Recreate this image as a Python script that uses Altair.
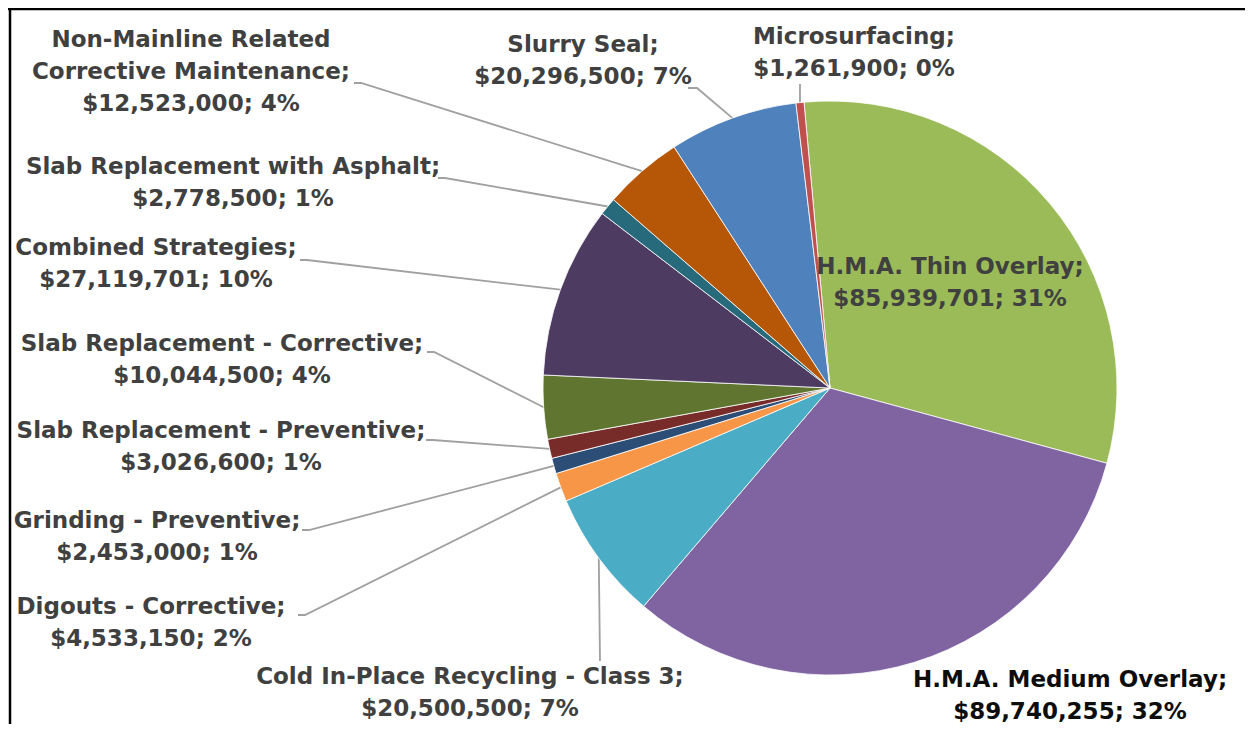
import math
import altair as alt
import pandas as pd

# ---- data ----
names = [
    "H.M.A. Thin Overlay",
    "H.M.A. Medium Overlay",
    "Cold In-Place Recycling - Class 3",
    "Digouts - Corrective",
    "Grinding - Preventive",
    "Slab Replacement - Preventive",
    "Slab Replacement - Corrective",
    "Combined Strategies",
    "Slab Replacement with Asphalt",
    "Non-Mainline Related Corrective Maintenance",
    "Slurry Seal",
    "Microsurfacing",
]
values = [85939701, 89740255, 20500500, 4533150, 2453000, 3026600,
          10044500, 27119701, 2778500, 12523000, 20296500, 1261900]
label_lines = [
    ["H.M.A. Thin Overlay;", "$85,939,701; 31%"],
    ["H.M.A. Medium Overlay;", "$89,740,255; 32%"],
    ["Cold In-Place Recycling - Class 3;", "$20,500,500; 7%"],
    ["Digouts - Corrective;", "$4,533,150; 2%"],
    ["Grinding - Preventive;", "$2,453,000; 1%"],
    ["Slab Replacement - Preventive;", "$3,026,600; 1%"],
    ["Slab Replacement - Corrective;", "$10,044,500; 4%"],
    ["Combined Strategies;", "$27,119,701; 10%"],
    ["Slab Replacement with Asphalt;", "$2,778,500; 1%"],
    ["Non-Mainline Related", "Corrective Maintenance;", "$12,523,000; 4%"],
    ["Slurry Seal;", "$20,296,500; 7%"],
    ["Microsurfacing;", "$1,261,900; 0%"],
]

# ---- styles / layout ----
colors = ["#9BBB59", "#8064A2", "#4BACC6", "#F79646", "#2C4D75", "#772C2A",
          "#5F7530", "#4D3B62", "#276A7C", "#B65708", "#4F81BD", "#C0504D"]
label_colors = ["#404040", "#0D0D0D"] + ["#404040"] * 10

W, H = 1237, 716
OFF = 8  # page margin
CX, CY, R = 830 - OFF, 388 - OFF, 287
START_DEG = -5.2
# label centres of first line (page px)
label_x = [950, 1070, 470, 151, 157, 221, 222, 156, 233, 191, 583, 854]
label_y = [267, 680, 677, 607, 521, 431, 344, 248, 167, 40, 45, 37]
# leader start points (page px); None = no leader
lead_x = [None, None, 600, 298, 302, 426, 427, 300, 438, 354, 688, 800]
lead_y = [None, None, 661, 615, 530, 440, 352, 260, 178, 83, 88, 84]
elbow = [0, 0, 0, 7, 7, 7, 7, 7, 7, 7, 9, 0]

FONT = "DejaVu Sans"
FSIZE = 23
LH = 32

df = pd.DataFrame({"name": names, "value": values, "idx": list(range(len(names)))})

start_r = math.radians(START_DEG) % (2 * math.pi)
if start_r < math.pi:
    start_r += 2 * math.pi
theta_range = [start_r, start_r + 2 * math.pi]

pie = alt.Chart(df).mark_arc(outerRadius=R, stroke="white", strokeWidth=0.8).encode(
    theta=alt.Theta("value:Q", stack=True, scale=alt.Scale(range=theta_range)),
    color=alt.Color("name:N", scale=alt.Scale(domain=names, range=colors), legend=None),
    order=alt.Order("idx:Q"),
    x=alt.value(CX),
    y=alt.value(CY),
)

# labels
lab = pd.DataFrame({
    "name": names,
    "text": ["\n".join(l) for l in label_lines],
    "lx": [x - OFF for x in label_x],
    "ly": [y - OFF for y in label_y],
    "tc": label_colors,
})
labels = alt.Chart(lab).mark_text(
    font=FONT, fontSize=FSIZE, fontWeight="bold", lineBreak="\n", lineHeight=LH,
    align="center", baseline="middle",
).encode(
    x=alt.X("lx:Q", scale=None),
    y=alt.Y("ly:Q", scale=None),
    text="text:N",
    color=alt.Color("tc:N", scale=None),
)

# leader lines: label -> elbow -> slice mid-angle on the rim
total = sum(values)
rows = []
cum = 0.0
for i, v in enumerate(values):
    mid = START_DEG + (cum + v / 2) / total * 360.0
    cum += v
    if lead_x[i] is None:
        continue
    a = math.radians(mid)
    ex = CX + R * math.sin(a)
    ey = CY - R * math.cos(a)
    sx, sy = lead_x[i] - OFF, lead_y[i] - OFF
    pts = [(sx, sy)]
    if elbow[i]:
        pts.append((sx + elbow[i], sy))
    pts.append((ex, ey))
    for k, (px, py) in enumerate(pts):
        rows.append({"name": names[i], "k": k, "px": px, "py": py})
lead_df = pd.DataFrame(rows)
leaders = alt.Chart(lead_df).mark_line(color="#A0A0A0", strokeWidth=1.8).encode(
    x=alt.X("px:Q", scale=None),
    y=alt.Y("py:Q", scale=None),
    detail="name:N",
    order="k:Q",
)

# chart frame (top and left edges)
frame_top = alt.Chart(pd.DataFrame({"a": [0]})).mark_rule(color="black", strokeWidth=2.5).encode(
    x=alt.value(0), x2=alt.value(W), y=alt.value(1))
frame_left = alt.Chart(pd.DataFrame({"a": [0]})).mark_rule(color="black", strokeWidth=2.5).encode(
    x=alt.value(2), y=alt.value(0), y2=alt.value(H))

chart = alt.layer(leaders, pie, labels, frame_top, frame_left).properties(
    width=W, height=H, padding=0, autosize=alt.AutoSizeParams(type="none"),
).configure_view(stroke=None)

chart.save("out.html", embed_options={"renderer": "svg", "actions": False})
